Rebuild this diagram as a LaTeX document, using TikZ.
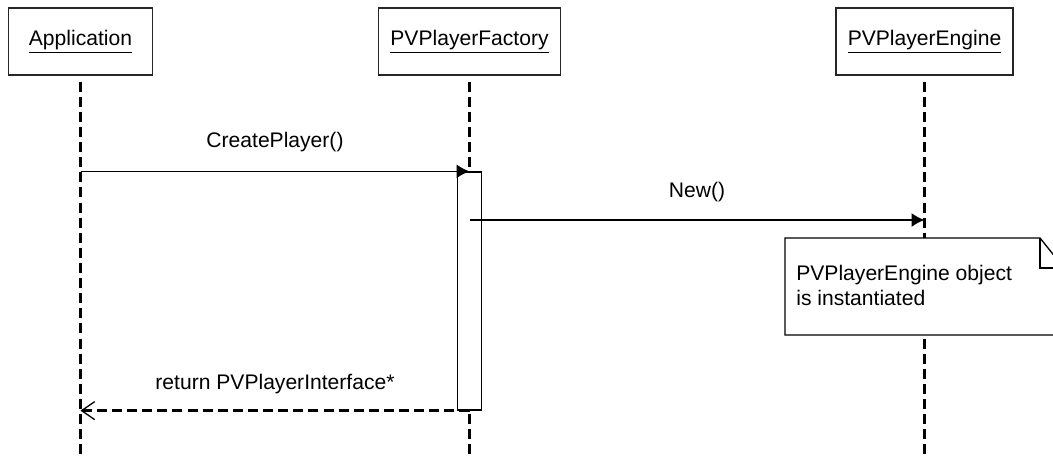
\documentclass[tikz,border=0pt]{standalone}
\usepackage{fontspec}
\setmainfont{Liberation Sans}
\usetikzlibrary{arrows.meta}
\tikzstyle{obj} = [rectangle, minimum height=1.34cm, text centered, draw=black!85, line width=0.75pt, fill=white]
\tikzstyle{act} = [rectangle, minimum width=0.48cm, minimum height=4.76cm, draw=black, line width=0.75pt, fill=white]
\tikzstyle{lifeline} = [line width=1.4pt, dash pattern=on 5.7pt off 2.9pt, shorten <=0.12cm]
\tikzstyle{msg} = [line width=0.75pt, -{Latex[length=0.26cm, width=0.28cm]}]
\tikzstyle{ret} = [line width=1.3pt, dash pattern=on 5.7pt off 2.9pt, -{Straight Barb[length=0.26cm, width=0.36cm, line width=0.75pt]}]
\tikzstyle{lbl} = [midway, inner sep=0pt]

\begin{document}
\begin{tikzpicture}[x=0.02cm, y=-0.02cm, font=\fontsize{12}{14.5}\selectfont]
	\clip (0,0) rectangle (1053,459);
	% objects
	\node (app) [obj, minimum width=2.88cm] at (80.5,41.5) {\underline{Application}};
	\node (factory) [obj, minimum width=3.64cm] at (469.5,41.5) {\underline{PVPlayerFactory}};
	\node (engine) [obj, minimum width=3.54cm] at (924.5,41.5) {\underline{PVPlayerEngine}};
	\coordinate (appEnd) at (80.5,462);
	\coordinate (factoryEnd) at (469.5,462);
	\coordinate (engineEnd) at (924.5,462);
	\coordinate (newAt) at (469.5,220);
	% lifelines
	\draw [lifeline] (app) -- (appEnd);
	\draw [lifeline] (factory) -- (factoryEnd);
	\draw [lifeline] (engine) -- (engineEnd);
	% activation and note
	\node (call) [act] at (469.5,291) {};
	\draw [fill=white, line width=0.75pt] (785,238) -- (1040,238) -- (1064,268) -- (1064,335) -- (785,335) -- cycle;
	\draw [line width=0.75pt] (1040,238) -- (1040,268) -- (1064,268);
	\node (note) [anchor=west, align=left, inner sep=0pt] at (796,285.5) {PVPlayerEngine object\\is instantiated};
	% messages
	\draw [msg] (app |- call.north) -- node [lbl, yshift=0.58cm] {CreatePlayer()} (call.north);
	\draw [msg] (newAt) -- node [lbl, yshift=0.56cm] {New()} (engine |- newAt);
	\draw [ret] (call.south) -- node [lbl, yshift=0.54cm] {return PVPlayerInterface*} (app |- call.south);
\end{tikzpicture}
\end{document}
